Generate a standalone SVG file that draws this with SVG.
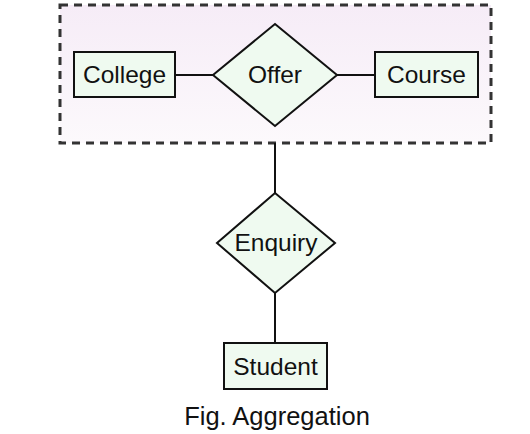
<svg xmlns="http://www.w3.org/2000/svg" width="530" height="434" viewBox="0 0 530 434">
<defs>
<linearGradient id="bg" x1="0" y1="0" x2="0" y2="1">
<stop offset="0" stop-color="#f6ecf7"/>
<stop offset="1" stop-color="#fcf9fc"/>
</linearGradient>
<style>
.n{fill:#effaf0;stroke:#111;stroke-width:2}
.t{font-family:"Liberation Sans",Arial,sans-serif;font-size:24.5px;fill:#111;text-anchor:middle}
.c{stroke:#111;stroke-width:2;fill:none}
</style>
</defs>
<rect width="530" height="434" fill="#fff"/>
<g id="aggregation">
<rect x="60" y="5" width="431" height="138" fill="url(#bg)" stroke="#333" stroke-width="3" stroke-dasharray="8 6"/>
</g>
<g id="connectors">
<line class="c" x1="175" y1="75" x2="213" y2="75"/>
<line class="c" x1="337" y1="75" x2="375" y2="75"/>
<line class="c" x1="275" y1="143" x2="275" y2="193"/>
<line class="c" x1="275" y1="293" x2="275" y2="343"/>
</g>
<g id="college">
<rect class="n" x="74" y="52" width="101" height="45"/>
<text class="t" x="124.5" y="83">College</text>
</g>
<g id="offer">
<polygon class="n" points="275,24 337,75 275,126 213,75"/>
<text class="t" x="275" y="83">Offer</text>
</g>
<g id="course">
<rect class="n" x="375" y="52" width="103" height="45"/>
<text class="t" x="426.5" y="83">Course</text>
</g>
<g id="enquiry">
<polygon class="n" points="275,193 335,243 275,293 217,243"/>
<text class="t" x="276" y="251">Enquiry</text>
</g>
<g id="student">
<rect class="n" x="224" y="343" width="103" height="46"/>
<text class="t" x="275.5" y="375">Student</text>
</g>
<text x="277" y="425" font-family="Liberation Sans,Arial,sans-serif" font-size="25.5" fill="#111" text-anchor="middle">Fig. Aggregation</text>
</svg>
